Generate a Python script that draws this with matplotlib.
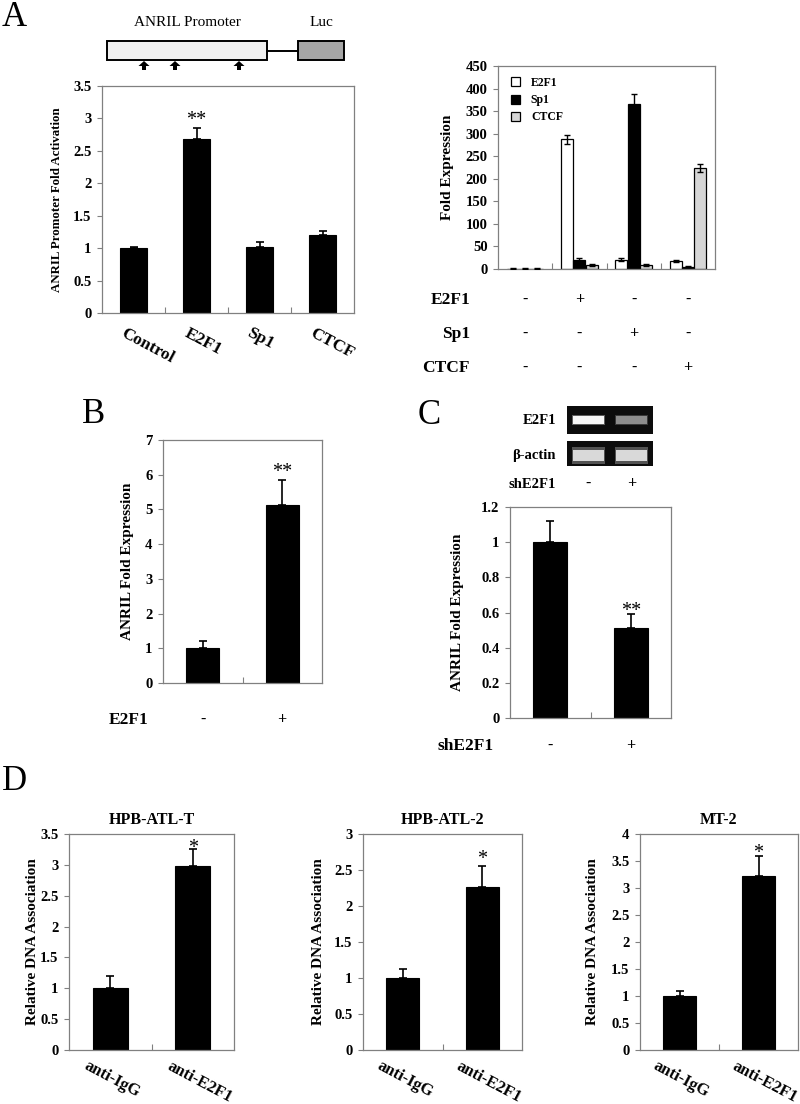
import numpy as np
import matplotlib
matplotlib.use("Agg")
import matplotlib.pyplot as plt
import matplotlib.transforms as mtransforms
from matplotlib.patches import Rectangle
from matplotlib.ticker import FuncFormatter

plt.rcParams['font.family'] = ['Liberation Serif', 'DejaVu Serif']
plt.rcParams['font.weight'] = 'bold'
plt.rcParams['axes.labelweight'] = 'bold'
plt.rcParams['axes.titleweight'] = 'bold'

# ---- data ----
# A left: ANRIL promoter luciferase activity
luc_labels = ["Control", "E2F1", "Sp1", "CTCF"]
luc_vals = [1.0, 2.68, 1.02, 1.21]
luc_err = [0.02, 0.17, 0.07, 0.05]
luc_stars = ["", "**", "", ""]

# A right: overexpression of each factor (fold expression)
tf_names = ["E2F1", "Sp1", "CTCF"]
tf_colors = ["white", "black", "#d6d6d6"]
ox_e2f1 = [1, 288, 21, 18]
ox_e2f1_err = [0.3, 10, 3, 3]
ox_sp1 = [1, 20, 366, 5]
ox_sp1_err = [0.3, 5, 23, 1]
ox_ctcf = [1, 9, 8, 223]
ox_ctcf_err = [0.3, 2, 2, 9]
ox_rows = ["E2F1", "Sp1", "CTCF"]
ox_signs = [["-", "+", "-", "-"],
            ["-", "-", "+", "-"],
            ["-", "-", "-", "+"]]

# B: E2F1 overexpression
b_vals = [1.0, 5.12]
b_err = [0.22, 0.72]
b_stars = ["", "**"]
b_signs = ["-", "+"]

# C: shE2F1 knockdown
c_vals = [1.0, 0.51]
c_err = [0.12, 0.08]
c_stars = ["", "**"]
c_signs = ["-", "+"]
gel_e2f1 = [0.97, 0.55]
gel_actin = [0.85, 0.85]

# D: ChIP
d_titles = ["HPB-ATL-T", "HPB-ATL-2", "MT-2"]
d_labels = ["anti-IgG", "anti-E2F1"]
d_vals = [[1.0, 2.98], [1.0, 2.26], [1.0, 3.22]]
d_err = [[0.2, 0.28], [0.12, 0.29], [0.1, 0.37]]
d_stars = ["", "*"]
d_ymax = [3.5, 3, 4]

# promoter schematic (pixel units of the schematic strip)
promoter_span = (107, 267)
luc_span = (298, 344)
site_x = [144, 175, 239]

W, H = 800, 1104
fig = plt.figure(figsize=(W / 100, H / 100), dpi=100)
GRAY = '#808080'


def add_ax(l, t, r, b):
    return fig.add_axes([l / W, 1 - b / H, (r - l) / W, (b - t) / H])


def shift(dx, dy):
    return mtransforms.ScaledTranslation(dx / 100, -dy / 100, fig.dpi_scale_trans)


def frame(ax, n, ymax, step, ylabel, label_x, ysize=11, tsize=10.5):
    ax.set_xlim(-0.5, n - 0.5)
    ax.set_ylim(0, ymax)
    ax.set_yticks(np.arange(0, ymax + step / 2, step))
    ax.yaxis.set_major_formatter(FuncFormatter(lambda v, p: f"{v:g}"))
    ax.set_xticks(np.arange(n))
    ax.set_xticklabels([])
    ax.set_xticks(np.arange(n - 1) + 0.5, minor=True)
    ax.tick_params(axis='x', which='major', length=0)
    ax.tick_params(axis='x', which='minor', direction='in', length=4, width=0.8, color=GRAY)
    ax.tick_params(axis='y', direction='out', length=3.5, width=0.8, color=GRAY,
                   labelsize=tsize, pad=4)
    for s in ax.spines.values():
        s.set_color(GRAY)
        s.set_linewidth(0.9)
    ax.set_ylabel(ylabel, fontsize=ysize, va='center')
    pos = ax.get_position()
    ax.yaxis.set_label_coords((label_x / W - pos.x0) / pos.width, 0.5)


def black_bars(ax, vals, errs, stars, gap):
    x = np.arange(len(vals))
    ax.bar(x, vals, width=0.42, color='black', edgecolor='black', linewidth=0.8, zorder=2)
    ax.errorbar(x, vals, yerr=[np.zeros(len(vals)), errs], fmt='none', ecolor='black',
                elinewidth=1.2, capsize=2.6, capthick=1.2, zorder=3)
    for xi, v, e, s in zip(x, vals, errs, stars):
        if s:
            ax.annotate(s, (xi, v + e), xytext=(0, (gap - 5) * 0.72), textcoords='offset points',
                        ha='center', va='center', fontsize=14.5, fontweight='normal')


def slanted(ax, labels, dx, dy, size):
    tr = ax.get_xaxis_transform() + shift(dx, dy)
    for i, lab in enumerate(labels):
        ax.text(i, 0, lab, transform=tr, rotation=-28, rotation_mode='anchor',
                ha='left', va='top', fontsize=size)


def sign_row(ax, label, signs, y, label_right, size=12.5):
    fig.text(label_right / W, 1 - y / H, label, ha='right', va='center', fontsize=size)
    tr = mtransforms.blended_transform_factory(ax.transData, fig.transFigure)
    for i, s in enumerate(signs):
        ax.text(i, 1 - y / H, s, transform=tr, ha='center', va='center', fontsize=11.5)


def panel_letter(x, y_base, s):
    fig.text(x / W, 1 - y_base / H, s, ha='center', va='baseline', fontsize=25,
             fontweight='normal')


# ---- A: schematic ----
panel_letter(14, 26, "A")
axS = add_ax(100, 5, 360, 80)
axS.set_xlim(100, 360)
axS.set_ylim(80, 5)
axS.axis('off')
axS.add_patch(Rectangle((promoter_span[0], 41), promoter_span[1] - promoter_span[0], 19,
                        fc='#f0f0f0', ec='black', lw=1.4))
axS.plot([promoter_span[1], luc_span[0]], [51, 51], color='black', lw=1.4)
axS.add_patch(Rectangle((luc_span[0], 41), luc_span[1] - luc_span[0], 19,
                        fc='#a6a6a6', ec='black', lw=1.4))
for sx in site_x:
    axS.arrow(sx, 70, 0, -9, width=4, head_width=11, head_length=5,
              length_includes_head=True, fc='black', ec='none')
axS.text(sum(promoter_span) / 2, 22, "ANRIL Promoter", ha='center', va='center',
         fontsize=11, fontweight='normal')
axS.text(sum(luc_span) / 2, 22, "Luc", ha='center', va='center', fontsize=11, fontweight='normal')

# ---- A left ----
axA = add_ax(102, 86, 354, 313)
frame(axA, 4, 3.5, 0.5, "ANRIL Promoter Fold Activation", 57, ysize=9.3)
black_bars(axA, luc_vals, luc_err, luc_stars, 13)
slanted(axA, luc_labels, -7.5, 12, 12.5)

# ---- A right ----
axR = add_ax(498, 66, 715, 269)
frame(axR, 4, 450, 50, "Fold Expression", 447)
xg = np.arange(4)
series = [(ox_e2f1, ox_e2f1_err), (ox_sp1, ox_sp1_err), (ox_ctcf, ox_ctcf_err)]
for k, ((vals, errs), name, col) in enumerate(zip(series, tf_names, tf_colors)):
    xs = xg + (k - 1) * 0.225
    axR.bar(xs, vals, width=0.22, color=col, edgecolor='black', linewidth=0.9, label=name, zorder=2)
    axR.errorbar(xs, vals, yerr=errs, fmt='none', ecolor='black', elinewidth=1,
                 capsize=2.2, capthick=1, zorder=3)
axR.legend(loc='upper left', bbox_to_anchor=(0.04, 0.97), frameon=False, fontsize=8.5,
           handlelength=0.75, handleheight=0.8, handletextpad=0.9, labelspacing=0.45,
           borderaxespad=0)
for row, signs, y in zip(ox_rows, ox_signs, [300, 334, 368]):
    sign_row(axR, row, signs, y, 470)

# ---- B ----
panel_letter(94, 423, "B")
axB = add_ax(163, 440, 322, 683)
frame(axB, 2, 7, 1, "ANRIL Fold Expression", 128)
black_bars(axB, b_vals, b_err, b_stars, 13)
sign_row(axB, "E2F1", b_signs, 720, 148)

# ---- C ----
panel_letter(429, 424, "C")


def gel(l, t, r, b, vals, center, height):
    g = add_ax(l, t, r, b)
    g.set_facecolor('#0c0c0c')
    g.set_xlim(-0.5, 1.5)
    g.set_ylim(0, 1)
    g.set_xticks([])
    g.set_yticks([])
    for s in g.spines.values():
        s.set_visible(False)
    lanes = np.arange(len(vals))
    glow = [(v, v, v, 0.35) for v in vals]
    core = [(v, v, v) for v in vals]
    g.bar(lanes, height * 1.5, bottom=center - height * 0.75, width=0.78, color=glow)
    g.bar(lanes, height, bottom=center - height / 2, width=0.7, color=core)
    return g


g1 = gel(567, 406, 653, 434, gel_e2f1, 0.5, 0.26)
g2 = gel(567, 441, 653, 466, gel_actin, 0.42, 0.46)
fig.text(556 / W, 1 - 420 / H, "E2F1", ha='right', va='center', fontsize=10.5)
fig.text(556 / W, 1 - 455 / H, "\u03b2-actin", ha='right', va='center', fontsize=10.5)
sign_row(g2, "shE2F1", c_signs, 484, 556, size=10.5)

axC = add_ax(510, 507, 671, 718)
frame(axC, 2, 1.2, 0.2, "ANRIL Fold Expression", 457)
black_bars(axC, c_vals, c_err, c_stars, 8)
sign_row(axC, "shE2F1", c_signs, 746, 494)

# ---- D ----
panel_letter(14, 790, "D")
d_boxes = [(69, 834, 234, 1050), (363, 834, 522, 1050), (640, 834, 798, 1050)]
d_label_x = [32, 318, 593]
d_gap = [5, 12, 8]
for box, title, vals, errs, ymax, lx, gap in zip(d_boxes, d_titles, d_vals, d_err,
                                                  d_ymax, d_label_x, d_gap):
    ax = add_ax(*box)
    frame(ax, 2, ymax, 0.5, "Relative DNA Association", lx)
    black_bars(ax, vals, errs, d_stars, gap)
    ax.set_title(title, fontsize=11.5, pad=7)
    slanted(ax, d_labels, -21, 8, 12)

fig.savefig("out.png", dpi=100)
